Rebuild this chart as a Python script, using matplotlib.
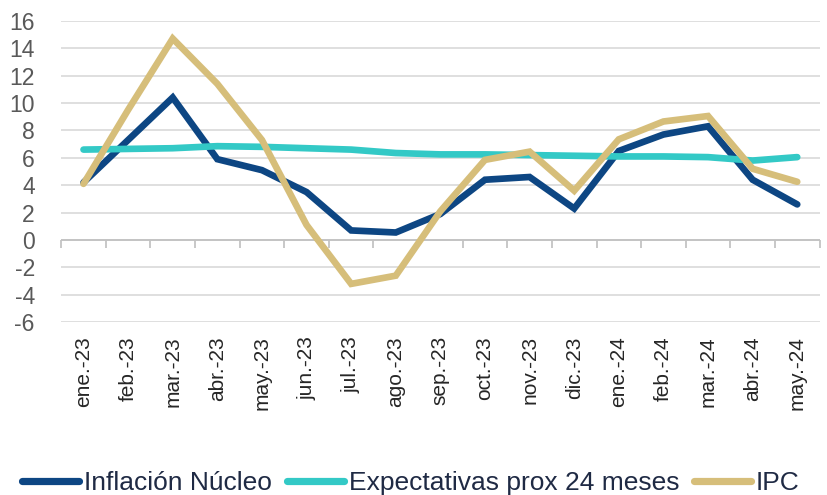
import matplotlib
matplotlib.use("Agg")
import matplotlib.pyplot as plt
import numpy as np

months = ["ene.-23", "feb.-23", "mar.-23", "abr.-23", "may.-23", "jun.-23", "jul.-23",
          "ago.-23", "sep.-23", "oct.-23", "nov.-23", "dic.-23", "ene.-24", "feb.-24",
          "mar.-24", "abr.-24", "may.-24"]
nucleo = [4.2, 7.3, 10.4, 5.9, 5.1, 3.5, 0.7, 0.55, 1.9, 4.4, 4.6, 2.3, 6.5, 7.7, 8.3, 4.4, 2.6]
expectativas = [6.6, 6.65, 6.7, 6.85, 6.8, 6.7, 6.6, 6.35, 6.25, 6.25, 6.2, 6.15, 6.1, 6.1, 6.05, 5.8, 6.05]
ipc = [4.1, 9.5, 14.7, 11.4, 7.3, 1.1, -3.2, -2.6, 2.1, 5.85, 6.45, 3.6, 7.35, 8.65, 9.05, 5.2, 4.25]
yticks = list(range(-6, 17, 2))

plt.rcParams['font.family'] = ['Liberation Sans', 'DejaVu Sans']

fig = plt.figure(figsize=(8.27, 4.95), dpi=100)
ax = fig.add_axes([0.074, 0.349, 0.917, 0.609])

x = np.arange(len(months))
lw = 4.8
ax.plot(x, nucleo, color="#0D4683", lw=lw, solid_capstyle="round", solid_joinstyle="miter", label="Inflación Núcleo", zorder=3)
ax.plot(x, expectativas, color="#33C9C6", lw=lw, solid_capstyle="round", label="Expectativas prox 24 meses", zorder=4)
ax.plot(x, ipc, color="#D6BE7A", lw=lw, solid_capstyle="round", solid_joinstyle="miter", label="IPC", zorder=5)

ax.set_ylim(-6, 16)
ax.set_xlim(-0.5, len(months) - 0.5)
ax.set_yticks(yticks)
ax.set_yticklabels([str(v) for v in yticks], fontsize=16.5, color="#595959")
ax.yaxis.grid(True, color="#D9D9D9", lw=1.2)
ax.set_axisbelow(True)
for s in ax.spines.values():
    s.set_visible(False)
ax.tick_params(axis="y", length=0, pad=19)

ax.set_xticks(x)
ax.set_xticklabels(months, rotation=90, fontsize=15, color="#262626")
ax.tick_params(axis="x", length=0, pad=10)

# zero axis line with boundary tick marks
ax.axhline(0, color="#BFBFBF", lw=1.2, zorder=1)
sec = ax.secondary_xaxis(6 / 22)
sec.spines["bottom"].set_visible(False)
sec.set_xticks(np.arange(-0.5, len(months), 1.0))
sec.set_xticklabels([])
sec.tick_params(axis="x", direction="out", length=6, color="#BFBFBF", width=1.2)

leg = fig.legend(loc="center", bbox_to_anchor=(0.497, 1 - 483 / 495), ncol=3, frameon=False,
                 prop={"size": 19},
                 handlelength=2.15, handletextpad=0.2, columnspacing=0.55, labelcolor="#1F2A44")
for h in leg.get_lines():
    h.set_linewidth(5.2)

fig.savefig("out.png", dpi=100)
